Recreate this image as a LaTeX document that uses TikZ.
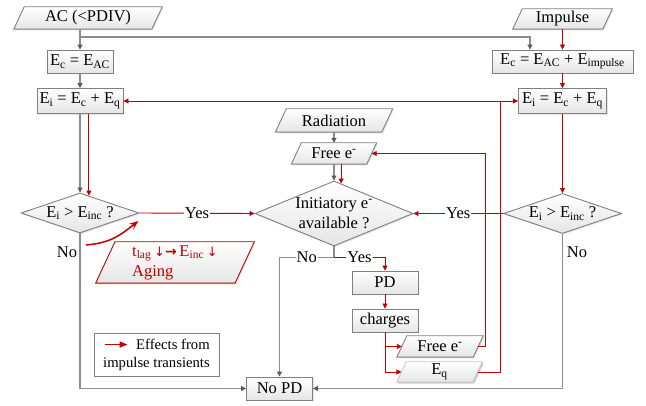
\documentclass[tikz,border=0pt]{standalone}
\usepackage{fontspec}
\setmainfont{Liberation Serif}
\newfontfamily\symf{DejaVu Sans}
\usetikzlibrary{shapes.geometric,arrows.meta,calc,shadows}
\definecolor{rcol}{HTML}{C00000}
\definecolor{gcol}{HTML}{8C8C8C}
\definecolor{gtip}{HTML}{5A5A5A}
\definecolor{bcol}{HTML}{808080}
\pgfdeclarelayer{bg}
\pgfsetlayers{bg,main}
\newcommand\drawpara[2]{%
  \path[boxbase,#2] let \p1=(#1.north), \p2=(#1.south), \n1={0.2332*(\y1-\y2)} in
    ($(#1.north west)+(\n1,0)$) -- ($(#1.north east)+(\n1,0)$) --
    ($(#1.south east)+(-\n1,0)$) -- ($(#1.south west)+(-\n1,0)$) -- cycle;}
\begin{document}
\begin{tikzpicture}[x=1pt,y=-1pt,
  font=\fontsize{16.5}{20}\selectfont,
  boxbase/.style={draw=bcol, line width=0.9pt, top color=white, bottom color=black!10,
    drop shadow={shadow xshift=1.2pt, shadow yshift=-1.2pt, opacity=0.2}},
  procbox/.style={boxbase, rectangle, inner sep=0pt, minimum width=#1, minimum height=23},
  para/.style={rectangle, inner sep=0pt, minimum width=#1, minimum height=22},
  decbox/.style={boxbase, diamond, inner sep=0pt, aspect=3},
  gline/.style={draw=gcol, line width=1.1pt},
  garrow/.style={gline, -{Triangle[length=5pt,width=5pt,color=gtip]}},
  rline/.style={draw=rcol, line width=0.9pt},
  rarrow/.style={rline, -{Triangle[length=5pt,width=5pt]}},
  lbl/.style={fill=white, inner sep=1pt},
]
\useasboundingbox (0,0) rectangle (646,406);

% nodes
\node[para=137.7] (ac) at (88,18) {AC (<PDIV)};
\node[para=89.7, minimum height=20] (imp) at (562.5,19) {Impulse};
\node[procbox=66] (ec1) at (80,61.5) {E\textsubscript{c} = E\textsubscript{AC}};
\node[procbox=141] (ec2) at (562.5,61.5) {E\textsubscript{c} = E\textsubscript{AC} + E\textsubscript{impulse}};
\node[procbox=86, minimum height=25] (ei1) at (80,101) {E\textsubscript{i} = E\textsubscript{c} + E\textsubscript{q}};
\node[procbox=88, minimum height=25] (ei2) at (562.5,101) {E\textsubscript{i} = E\textsubscript{c} + E\textsubscript{q}};
\node[para=106, minimum height=23] (rad) at (334,120.5) {Radiation};
\node[para=75, minimum height=21] (fe1) at (334,153.5) {Free e\textsuperscript{-}};
\node[decbox, minimum width=118, minimum height=40] (d1) at (80,213) {E\textsubscript{i} > E\textsubscript{inc} ?};
\node[decbox, minimum width=158, minimum height=65, inner sep=-2pt, align=center] (d2) at (334,213.5) {Initiatory e\textsuperscript{-}\\available ?};
\node[decbox, minimum width=118, minimum height=40] (d3) at (562.5,213.5) {E\textsubscript{i} > E\textsubscript{inc} ?};
\node[para=139, minimum height=41, text=rcol, align=left] (aging) at (175,262.5)
  {t\textsubscript{lag}\,{\symf\fontsize{13}{15}\selectfont↓}{\symf\bfseries\fontsize{14}{15}\selectfont→}\,E\textsubscript{inc}\,{\symf\fontsize{13}{15}\selectfont↓}\\Aging};
\node[procbox=66] (pd) at (385,282.5) {PD};
\node[procbox=66] (ch) at (385,320.5) {charges};
\node[para=76, minimum height=21] (fe2) at (440,346.5) {Free e\textsuperscript{-}};
\node[para=75.7, minimum height=20] (eq) at (439.5,372) {E\textsubscript{q}};
\node[procbox=66] (nopd) at (279.5,388.5) {No PD};
\node[draw=bcol, line width=0.9pt, fill=white, minimum width=125, minimum height=43,
  inner sep=0pt, font=\fontsize{14.7}{18}\selectfont, align=right] (leg) at (156.5,354.5)
  {Effects from\\impulse transients};
\node (no1) at (67,252) {No};
\node (no3) at (577,252) {No};

% parallelogram outlines (behind their texts)
\begin{pgfonlayer}{bg}
\drawpara{ac}{}
\drawpara{imp}{}
\drawpara{rad}{}
\drawpara{fe1}{}
\drawpara{fe2}{}
\drawpara{eq}{draw=black!22, drop shadow={shadow xshift=1.5pt, shadow yshift=-1.5pt, opacity=0.3}}
\drawpara{aging}{draw=rcol}
\end{pgfonlayer}

% coordinates
\coordinate (acj) at (80,37);
\coordinate (jq) at (500,101);
\coordinate (d1in) at ($(d1.north)!0.15!(d1.east)$);
\coordinate (d2in) at ($(d2.north)!0.09!(d2.east)$);
\coordinate (d2j) at ($(d2.south)+(0,11)$);
\coordinate (cvs) at (86,245);

% gray connectors
\draw[gline] (ac.south -| ec1.north) -- (acj);
\draw[garrow] (acj) -- (ec1.north);
\draw[garrow] (acj) -| ($(ec2.north)+(-32.5,0)$);
\draw[garrow] (ec1.south) -- (ei1.north);
\draw[garrow] (ei1.south) -- (d1.north);
\draw[garrow] (rad.south) -- (fe1.north);
\draw[garrow] (fe1.south) -- (d2.north);
\draw[garrow] (d1.south) |- (nopd.west);
\draw[garrow] (d3.south) |- (nopd.east);
\draw[gline] (d2.south) -- (d2j);
\draw[garrow] (d2j) -| node[lbl,pos=0.25] (no2) {No} (nopd.north);

% red connectors
\draw[rarrow] (imp.south) -- (ec2.north);
\draw[rarrow] (ec2.south) -- (ei2.north);
\draw[rarrow] (ei2.south) -- (d3.north);
\draw[rarrow] (ei1.south -| d1in) -- (d1in);
\draw[rarrow] (fe1.south -| d2in) -- (d2in);
\draw[rarrow] (d2j) -| node[lbl,pos=0.25] (yes3) {Yes} (pd.north);
\draw[rarrow] (pd.south) -- (ch.north);
\draw[rarrow] (ch.south) |- (fe2.west);
\draw[rarrow] (ch.south) |- (eq.west);
\draw[rarrow] (fe2.east) -- ++(7,0) |- (fe1.east);
\draw[rarrow] (eq.east) -| (jq) -- (ei1.east);
\draw[rarrow] (jq) -- (ei2.west);
\draw[rarrow] (d1.east) -- node[lbl] (yes1) {Yes} (d2.west);
\draw[rarrow] (d3.west) -- node[lbl] (yes2) {Yes} (d2.east);
\draw[rline, line width=1.5pt, -{Stealth[length=9pt,width=7pt]}]
  (cvs) .. controls +(25,-2) and +(-18,14) .. ($(d1.east)+(-1,8)$);

% legend arrow
\draw[rline, line width=1.6pt, -{Triangle[length=8pt,width=6pt]}]
  ($(leg.north west)+(11,12)$) -- ($(leg.north west)+(34,12)$);
\end{tikzpicture}
\end{document}
